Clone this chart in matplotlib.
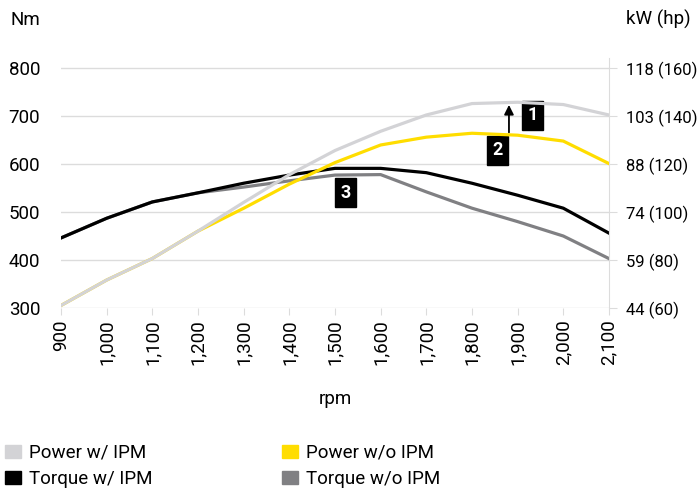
import matplotlib.pyplot as plt
from matplotlib.ticker import FuncFormatter
from matplotlib.patches import Patch

plt.rcParams['font.family'] = ['Roboto', 'DejaVu Sans']

rpm = [900, 1000, 1100, 1200, 1300, 1400, 1500, 1600, 1700, 1800, 1900, 2000, 2100]
torque_ipm = [446, 487, 521, 540, 560, 577, 591, 591, 582, 560, 535, 508, 456]
torque_no_ipm = [446, 487, 521, 540, 552, 565, 577, 578, 542, 508, 480, 450, 403]
# power in kW
power_ipm = [44.9, 52.7, 59.3, 67.7, 76.5, 85.0, 92.4, 98.3, 103.3, 106.8, 107.2, 106.5, 103.3]
power_no_ipm = [44.9, 52.7, 59.3, 67.7, 74.7, 82.1, 88.7, 94.1, 96.5, 97.7, 97.1, 95.3, 88.4]
hp_ticks = [60, 80, 100, 120, 140, 160]
kw_labels = ['44 (60)', '59 (80)', '74 (100)', '88 (120)', '103 (140)', '118 (160)']

KW_PER_HP = 0.7355
grid_c = '#dcdcdc'
fs = 13.5

fig = plt.figure(figsize=(6.97, 4.91), dpi=100)
ax = fig.add_axes([0.0875, 0.3727, 0.7862, 0.5092])
ax2 = ax.twinx()

ymin, ymax = 300, 821
ax.set_ylim(ymin, ymax)
ax.set_xlim(900, 2100)
# right axis: hp 60..160 maps to 300..800 Nm
ax2.set_ylim((60 + (ymin - 300) / 5) * KW_PER_HP, (60 + (ymax - 300) / 5) * KW_PER_HP)

ax.plot(rpm, torque_no_ipm, color='#808083', lw=2.3, zorder=3)
ax.plot(rpm, torque_ipm, color='black', lw=2.3, zorder=4)
ax2.plot(rpm, power_no_ipm, color='#ffdd00', lw=2.3, zorder=3)
ax2.plot(rpm, power_ipm, color='#d3d3d6', lw=2.3, zorder=4)

ax.set_yticks([300, 400, 500, 600, 700, 800])
ax.grid(axis='y', color=grid_c, lw=1)
ax.set_axisbelow(True)
ax.set_xticks(rpm)
ax.xaxis.set_major_formatter(FuncFormatter(lambda v, p: f'{int(v):,}'))
ax.tick_params(axis='x', rotation=90, length=5, color=grid_c, labelsize=fs, pad=3)
ax.tick_params(axis='y', length=0, labelsize=fs, pad=15)

ax2.set_yticks([h * KW_PER_HP for h in hp_ticks])
ax2.set_yticklabels(kw_labels)
ax2.tick_params(axis='y', length=6, color=grid_c, labelsize=12, pad=6)

for a in (ax, ax2):
    for s in a.spines.values():
        s.set_visible(False)
ax2.spines['right'].set_visible(True)
ax2.spines['right'].set_color(grid_c)

ax.set_xlabel('rpm', fontsize=fs, labelpad=18)
fig.text(0.037, 0.959, 'Nm', fontsize=fs, ha='center', va='center')
fig.text(0.945, 0.961, 'kW (hp)', fontsize=fs, ha='center', va='center')

# annotations
ax.annotate('', xy=(1881, 729), xytext=(1881, 660),
            arrowprops=dict(arrowstyle='-|>', color='black', lw=1.3, mutation_scale=14), zorder=6)
box = dict(boxstyle='square,pad=0.3', fc='black', ec='black')
for label, x, y in [('1', 1933, 702), ('2', 1855, 629), ('3', 1524, 540)]:
    ax.text(x, y, label, color='white', fontsize=13, fontweight='bold',
            ha='center', va='center', bbox=box, zorder=7)

leg_kw = dict(loc='upper left', frameon=False, fontsize=fs, handlelength=0.85, handleheight=0.7,
              labelspacing=0.45, handletextpad=0.45, borderpad=0, borderaxespad=0)
fig.legend([Patch(color='#d3d3d6'), Patch(color='black')],
           ['Power w/ IPM', 'Torque w/ IPM'], bbox_to_anchor=(5 / 697, 0.096), **leg_kw)
fig.legend([Patch(color='#ffdd00'), Patch(color='#808083')],
           ['Power w/o IPM', 'Torque w/o IPM'], bbox_to_anchor=(282 / 697, 0.096), **leg_kw)

fig.savefig('out.png', dpi=100)
